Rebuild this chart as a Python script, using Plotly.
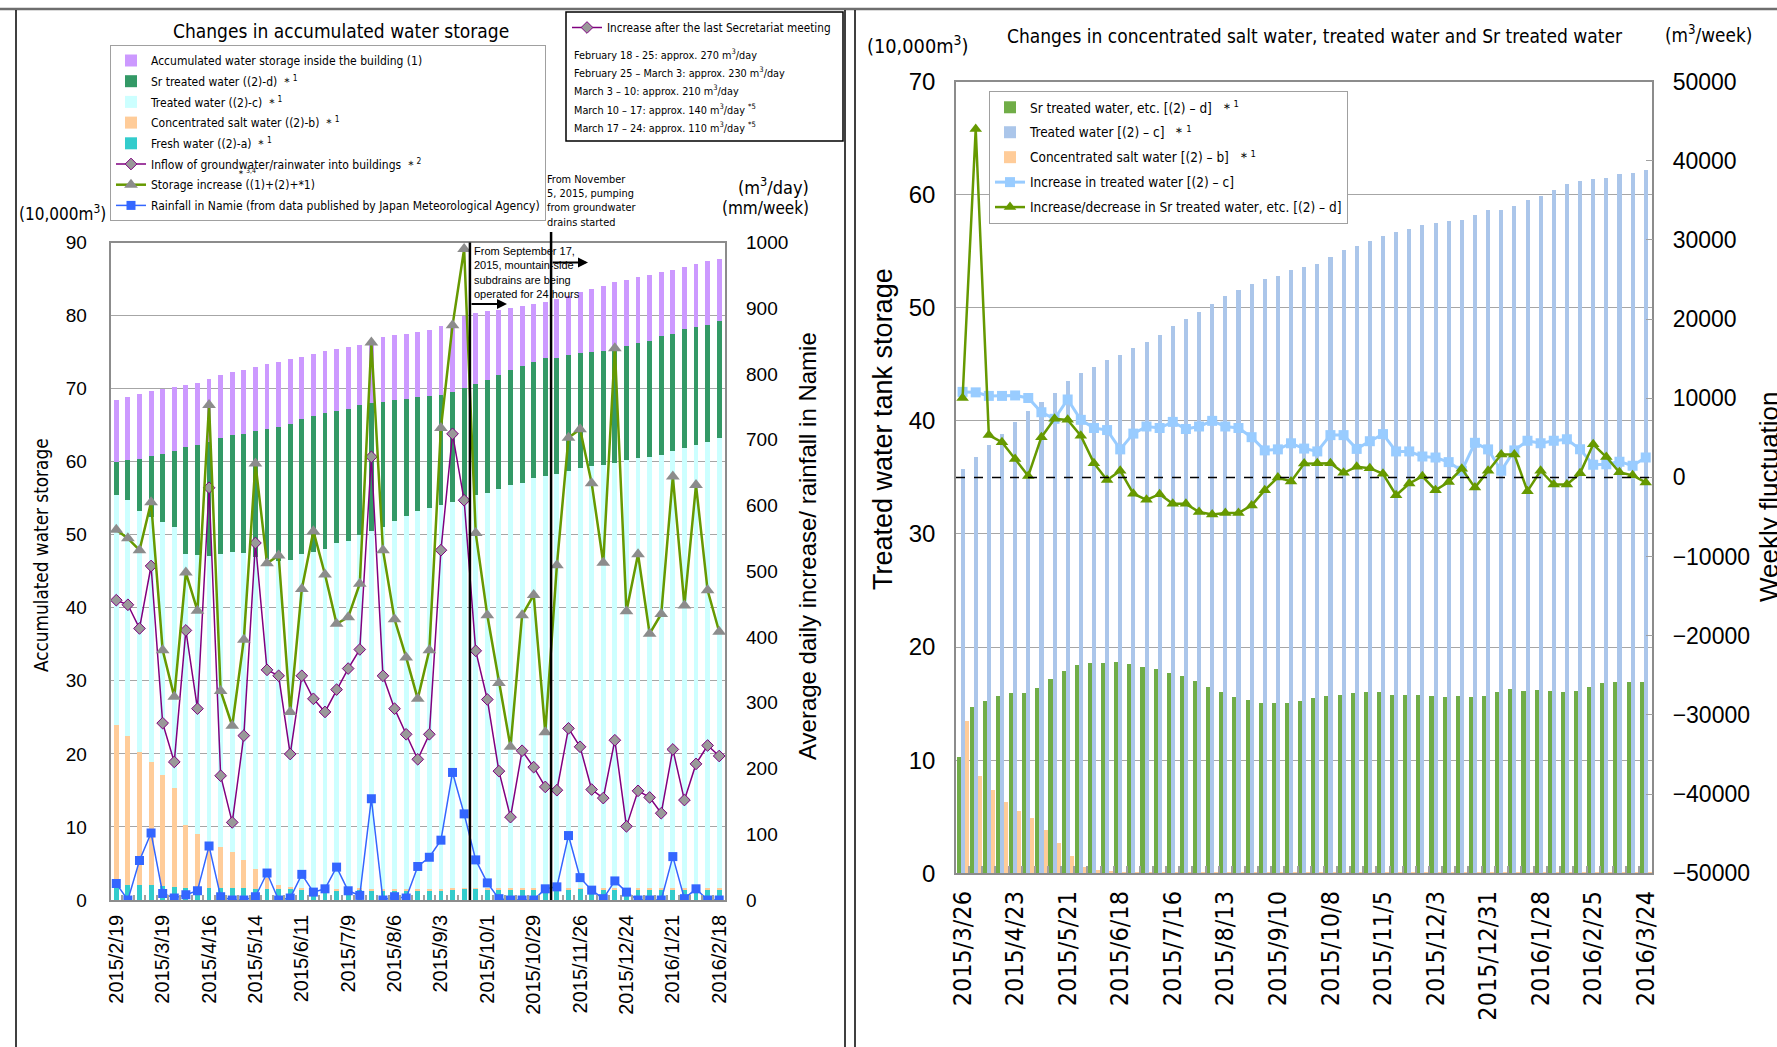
import plotly.graph_objects as go

W, H = 1777, 1047


def px(x):
    return x / W


def py(y):
    return 1 - y / H


NARROW = "DejaVu Sans Condensed, sans-serif"
ARIAL = "Liberation Sans, Arial, sans-serif"
COND = "DejaVu Sans Condensed, sans-serif"

# ---------------- left panel data ----------------
left_dates = [
    "2015/2/19", "2015/2/26", "2015/3/5", "2015/3/12", "2015/3/19", "2015/3/26", "2015/4/2", "2015/4/9",
    "2015/4/16", "2015/4/23", "2015/4/30", "2015/5/7", "2015/5/14", "2015/5/21", "2015/5/28", "2015/6/4",
    "2015/6/11", "2015/6/18", "2015/6/25", "2015/7/2", "2015/7/9", "2015/7/16", "2015/7/23", "2015/7/30",
    "2015/8/6", "2015/8/13", "2015/8/20", "2015/8/27", "2015/9/3", "2015/9/10", "2015/9/17", "2015/9/24",
    "2015/10/1", "2015/10/8", "2015/10/15", "2015/10/22", "2015/10/29", "2015/11/5", "2015/11/12",
    "2015/11/19", "2015/11/26", "2015/12/3", "2015/12/10", "2015/12/17", "2015/12/24", "2015/12/31",
    "2016/1/7", "2016/1/14", "2016/1/21", "2016/1/28", "2016/2/4", "2016/2/11", "2016/2/18",
]
left_tick_labels = [
    "2015/2/19", "2015/3/19", "2015/4/16", "2015/5/14", "2015/6/11", "2015/7/9", "2015/8/6",
    "2015/9/3", "2015/10/1", "2015/10/29", "2015/11/26", "2015/12/24", "2016/1/21", "2016/2/18",
]
fresh_water = [1.9, 2.1, 2.0, 2.0, 1.9, 1.8, 1.7, 1.7, 1.7, 1.6,
               1.7, 1.7, 1.5, 1.5, 1.5, 1.5, 1.5, 1.5, 1.4, 1.4,
               1.5, 1.5, 1.4, 1.4, 1.4, 1.4, 1.4, 1.4, 1.4, 1.5,
               1.6, 1.6, 1.5, 1.5, 1.5, 1.5, 1.5, 1.6, 1.7, 1.5,
               1.6, 1.5, 1.5, 1.5, 1.5, 1.5, 1.5, 1.5, 1.5, 1.5,
               1.5, 1.5, 1.5]
conc_salt_left = [22.1, 20.4, 18.2, 16.9, 15.2, 13.5, 8.6, 7.4, 6.3, 5.6,
                  4.9, 3.8, 2.7, 1.5, 0.6, 0.3, 0.2, 0.15, 0.1, 0.1,
                  0.1, 0.1, 0.1, 0.1, 0.1, 0.1, 0.1, 0.1, 0.1, 0.1,
                  0.1, 0.1, 0.1, 0.1, 0.1, 0.1, 0.1, 0.1, 0.1, 0.1,
                  0.1, 0.1, 0.1, 0.1, 0.1, 0.1, 0.1, 0.1, 0.1, 0.1,
                  0.1, 0.1, 0.1]
treated_left = [31.5, 32.2, 33.0, 33.5, 34.6, 35.8, 37.0, 38.1, 39.1, 40.2,
                41.0, 42.0, 42.7, 43.7, 44.3, 44.7, 45.6, 46.0, 46.5, 47.3,
                47.6, 48.3, 49.0, 49.6, 50.4, 51.0, 51.7, 52.1, 52.6, 52.9,
                53.3, 53.7, 54.1, 54.6, 55.2, 55.5, 56.1, 56.4, 56.5, 57.1,
                57.5, 57.8, 58.0, 58.2, 58.6, 58.9, 59.0, 59.3, 59.8, 60.3,
                60.7, 61.1, 61.6]
sr_left = [4.5, 5.5, 7.2, 8.4, 9.4, 10.3, 14.7, 15.1, 15.6, 15.9,
           16.0, 16.3, 17.3, 17.8, 18.4, 18.7, 18.5, 18.6, 18.7, 18.2,
           18.0, 17.8, 17.5, 17.0, 16.5, 16.1, 15.6, 15.4, 15.0, 15.0,
           15.1, 15.2, 15.5, 15.7, 15.7, 16.0, 16.0, 16.1, 15.9, 15.9,
           15.7, 15.6, 15.6, 15.6, 15.6, 15.8, 15.9, 16.3, 16.1, 16.2,
           16.1, 16.0, 16.1]
building = [8.5, 8.6, 8.8, 8.9, 8.9, 8.8, 8.5, 8.5, 8.6, 8.5,
            8.7, 8.8, 8.7, 8.9, 8.9, 8.8, 8.5, 8.5, 8.4, 8.4,
            8.5, 8.3, 8.3, 8.9, 8.9, 8.9, 9.0, 9.0, 9.5, 9.5,
            9.8, 9.7, 9.4, 8.9, 8.5, 8.2, 7.9, 7.7, 8.0, 8.1,
            8.3, 8.7, 8.8, 9.2, 9.1, 9.0, 9.1, 8.7, 8.8, 8.5,
            8.7, 8.7, 8.5]
inflow = [456, 449, 413, 508, 269, 210, 410, 291, 627, 189,
          118, 250, 543, 350, 341, 222, 341, 306, 286, 320,
          352, 381, 674, 341, 291, 252, 214, 252, 532, 709,
          608, 379, 305, 196, 126, 227, 202, 172, 167, 261,
          233, 168, 155, 243, 112, 166, 156, 132, 229, 152,
          207, 235, 219]
storage_increase = [563, 550, 532, 605, 380, 309, 498, 440, 753, 318,
                    265, 396, 664, 512, 524, 286, 473, 561, 495, 420,
                    430, 481, 848, 532, 427, 369, 306, 380, 718, 874,
                    990, 558, 433, 330, 233, 433, 464, 255, 509, 703,
                    716, 634, 513, 839, 439, 526, 405, 435, 644, 448,
                    631, 471, 408]
rainfall = [25, 0, 60, 102, 10, 3, 8, 14, 82, 5,
            0, 0, 5, 41, 0, 3, 39, 12, 17, 50,
            14, 7, 154, 0, 5, 3, 51, 65, 91, 194,
            131, 61, 26, 2, 0, 0, 0, 17, 20, 98,
            34, 15, 2, 29, 12, 0, 0, 0, 66, 2,
            17, 0, 0]

# ---------------- right panel data ----------------
right_dates = [
    "2015/3/26", "2015/4/2", "2015/4/9", "2015/4/16", "2015/4/23", "2015/4/30", "2015/5/7", "2015/5/14",
    "2015/5/21", "2015/5/28", "2015/6/4", "2015/6/11", "2015/6/18", "2015/6/25", "2015/7/2", "2015/7/9",
    "2015/7/16", "2015/7/23", "2015/7/30", "2015/8/6", "2015/8/13", "2015/8/20", "2015/8/27", "2015/9/3",
    "2015/9/10", "2015/9/17", "2015/9/24", "2015/10/1", "2015/10/8", "2015/10/15", "2015/10/22",
    "2015/10/29", "2015/11/5", "2015/11/12", "2015/11/19", "2015/11/26", "2015/12/3", "2015/12/10",
    "2015/12/17", "2015/12/24", "2015/12/31", "2016/1/7", "2016/1/14", "2016/1/21", "2016/1/28",
    "2016/2/4", "2016/2/11", "2016/2/18", "2016/2/25", "2016/3/3", "2016/3/10", "2016/3/17", "2016/3/24",
]
right_tick_labels = [
    "2015/3/26", "2015/4/23", "2015/5/21", "2015/6/18", "2015/7/16", "2015/8/13", "2015/9/10",
    "2015/10/8", "2015/11/5", "2015/12/3", "2015/12/31", "2016/1/28", "2016/2/25", "2016/3/24",
]
sr_right = [10.3, 14.7, 15.2, 15.7, 15.9, 15.9, 16.4, 17.2, 17.9, 18.4,
            18.6, 18.6, 18.7, 18.5, 18.2, 18.1, 17.7, 17.4, 17.0, 16.5,
            16.0, 15.6, 15.3, 15.1, 15.1, 15.1, 15.2, 15.5, 15.7, 15.8,
            15.9, 16.0, 16.0, 15.8, 15.8, 15.8, 15.7, 15.6, 15.7, 15.6,
            15.7, 16.0, 16.3, 16.1, 16.2, 16.1, 16.0, 16.1, 16.5, 16.8,
            16.9, 16.9, 16.9]
treated_right = [35.7, 36.8, 37.9, 38.8, 39.9, 40.9, 41.7, 42.5, 43.5, 44.2,
                 44.8, 45.4, 45.8, 46.4, 47.0, 47.6, 48.4, 49.0, 49.6, 50.3,
                 51.0, 51.6, 52.1, 52.5, 52.8, 53.3, 53.6, 53.9, 54.5, 55.1,
                 55.5, 55.9, 56.3, 56.7, 57.0, 57.3, 57.5, 57.7, 57.8, 58.2,
                 58.6, 58.6, 59.0, 59.5, 59.9, 60.4, 60.9, 61.2, 61.4, 61.5,
                 61.8, 61.9, 62.2]
conc_salt_right = [13.5, 8.6, 7.4, 6.3, 5.5, 4.9, 3.8, 2.7, 1.5, 0.6,
                   0.3, 0.2, 0.15, 0.1, 0.1, 0.1, 0.1, 0.1, 0.1, 0.1,
                   0.1, 0.1, 0.1, 0.1, 0.1, 0.1, 0.1, 0.1, 0.1, 0.1,
                   0.1, 0.1, 0.1, 0.1, 0.1, 0.1, 0.1, 0.1, 0.1, 0.1,
                   0.1, 0.1, 0.1, 0.1, 0.1, 0.1, 0.1, 0.1, 0.1, 0.1,
                   0.1, 0.1, 0.1]
inc_treated = [10800, 10740, 10290, 10290, 10350, 10030, 8230, 7400, 9840, 7270,
               6240, 5980, 3540, 5530, 6430, 6240, 7010, 6110, 6430, 7140,
               6430, 6240, 5080, 3410, 3540, 4310, 3640, 3280, 5340, 5340,
               3600, 4570, 5470, 3280, 3280, 2640, 2510, 1930, 840, 4370,
               3540, 840, 3410, 4630, 4310, 4630, 4820, 3540, 1610, 1670,
               1990, 1480, 2510]
inc_sr = [10030, 44000, 5340, 4440, 2320, 190, 5080, 7400, 7270, 5270,
          1800, -320, 840, -2060, -2830, -2120, -3340, -3340, -4370, -4690,
          -4500, -4500, -3540, -1610, 0, -510, 1740, 1800, 1800, 580,
          1350, 1160, 450, -2250, -770, 130, -1610, -580, 1090, -1290,
          840, 2890, 2890, -1740, 840, -900, -900, 510, 4180, 2570,
          640, 260, -640]
y4_ticks = [-50000, -40000, -30000, -20000, -10000, 0, 10000, 20000, 30000, 40000, 50000]
y4_tick_text = ["−50000", "−40000", "−30000", "−20000", "−10000", "0",
                "10000", "20000", "30000", "40000", "50000"]

# ---------------- geometry ----------------
L_X = [px(110.5), px(725)]
L_Y = [py(900), py(242.5)]
R_X = [px(956), px(1652.3)]
R_Y = [py(873.3), py(81.5)]

fig = go.Figure()

# left stacked bars (bottom to top)
left_bars = [
    ("Fresh water ((2)-a) ＊<sup>1</sup>", fresh_water, "#33CCCC", 5),
    ("Concentrated salt water ((2)-b) ＊<sup>1</sup>", conc_salt_left, "#FFCC99", 4),
    ("Treated water ((2)-c) ＊<sup>1</sup>", treated_left, "#CCFFFF", 3),
    ("Sr treated water ((2)-d) ＊<sup>1</sup>", sr_left, "#339966", 2),
    ("Accumulated water storage inside the building (1)", building, "#CC99FF", 1),
]
for name, vals, col, rank in left_bars:
    fig.add_trace(go.Bar(x=left_dates, y=vals, name=name, marker=dict(color=col, line=dict(width=0)),
                         xaxis="x", yaxis="y", legend="legend", legendrank=rank,
                         legendgroup="L%d" % rank))

fig.add_trace(go.Scatter(x=left_dates, y=inflow, mode="lines+markers",
                         name="Inflow of groundwater/rainwater into buildings ＊<sup>2</sup>",
                         line=dict(color="#800080", width=1.5),
                         marker=dict(symbol="diamond", size=9, color="#999999",
                                     line=dict(color="#800080", width=1)),
                         xaxis="x", yaxis="y2", legend="legend", legendrank=6, legendgroup="L6"))
fig.add_trace(go.Scatter(x=left_dates, y=storage_increase, mode="lines+markers",
                         name="Storage increase ((1)+(2)+*1)",
                         line=dict(color="#669900", width=2.5),
                         marker=dict(symbol="triangle-up", size=12, color="#8C8C8C"),
                         xaxis="x", yaxis="y2", legend="legend", legendrank=7, legendgroup="L7"))
fig.add_trace(go.Scatter(x=left_dates, y=rainfall, mode="lines+markers",
                         name="Rainfall in Namie (from data published by Japan Meteorological Agency)",
                         line=dict(color="#3366FF", width=1.5),
                         marker=dict(symbol="square", size=9, color="#3366FF"),
                         xaxis="x5", yaxis="y2", legend="legend", legendrank=8, legendgroup="L8"))
# legend-only entry for the secretariat box
fig.add_trace(go.Scatter(x=[None], y=[None], mode="lines+markers",
                         name="Increase after the last Secretariat meeting",
                         line=dict(color="#800080", width=1.5),
                         marker=dict(symbol="diamond", size=9, color="#999999",
                                     line=dict(color="#800080", width=1)),
                         xaxis="x", yaxis="y2", legend="legend3"))

# right grouped bars (each on its own overlaid x axis)
fig.add_trace(go.Bar(x=right_dates, y=sr_right, name="Sr treated water, etc. [(2) – d]  ＊<sup>1</sup>",
                     marker=dict(color="#70AD47", line=dict(width=0)), width=0.31, offset=-0.46,
                     xaxis="x3", yaxis="y3", legend="legend2", legendrank=1, legendgroup="R1"))
fig.add_trace(go.Bar(x=right_dates, y=treated_right, name="Treated water [(2) – c]  ＊<sup>1</sup>",
                     marker=dict(color="#ABC6EA", line=dict(width=0)), width=0.31, offset=-0.15,
                     xaxis="x2", yaxis="y3", legend="legend2", legendrank=2, legendgroup="R2"))
fig.add_trace(go.Bar(x=right_dates, y=conc_salt_right, name="Concentrated salt water [(2) – b]  ＊<sup>1</sup>",
                     marker=dict(color="#FFCC99", line=dict(width=0)), width=0.31, offset=0.16,
                     xaxis="x4", yaxis="y3", legend="legend2", legendrank=3, legendgroup="R3"))
fig.add_trace(go.Scatter(x=right_dates, y=inc_treated, mode="lines+markers",
                         name="Increase in treated water [(2) – c]",
                         line=dict(color="#99CCFF", width=3),
                         marker=dict(symbol="square", size=10, color="#99CCFF"),
                         xaxis="x2", yaxis="y4", legend="legend2", legendrank=4, legendgroup="R4"))
fig.add_trace(go.Scatter(x=right_dates, y=inc_sr, mode="lines+markers",
                         name="Increase/decrease in Sr treated water, etc. [(2) – d]",
                         line=dict(color="#669900", width=2.5),
                         marker=dict(symbol="triangle-up", size=11, color="#669900"),
                         xaxis="x2", yaxis="y4", legend="legend2", legendrank=5, legendgroup="R5"))

GRID = "#A6A6A6"
AX = "#8C8C8C"

cat_common = dict(type="category", range=[-0.5, 52.5], showgrid=False, fixedrange=True)

layout = dict(
    width=W, height=H, margin=dict(l=0, r=0, t=0, b=0, autoexpand=False),
    paper_bgcolor="white", plot_bgcolor="rgba(0,0,0,0)",
    font=dict(family=ARIAL, color="black", size=14),
    barmode="stack", bargap=0.58, showlegend=True,
    xaxis=dict(domain=L_X, anchor="y", categoryarray=left_dates, tickmode="array",
               tickvals=left_tick_labels, ticktext=left_tick_labels, tickangle=-90,
               tickfont=dict(family=ARIAL, size=20), ticks="", ticklabelstandoff=5,
               showline=True, linecolor=AX, linewidth=1.5, mirror=True, **cat_common),
    xaxis5=dict(overlaying="x", anchor="y", categoryarray=left_dates, tickmode="linear", tick0=0, dtick=1,
                tickson="boundaries", ticks="inside", ticklen=5, tickwidth=1.5, tickcolor="#A0A0A0",
                showticklabels=False, showline=False, **cat_common),
    yaxis=dict(domain=L_Y, anchor="x", range=[0, 90], tick0=0, dtick=10, showgrid=True, gridcolor=GRID,
               gridwidth=1, showline=True, linecolor=AX, linewidth=1.5, mirror=True, zeroline=False,
               tickfont=dict(family=ARIAL, size=19), ticklabelstandoff=18, fixedrange=True),
    yaxis2=dict(overlaying="y", anchor="x", side="right", range=[0, 1000], tick0=0, dtick=100,
                showgrid=False, zeroline=False, showline=False,
                tickfont=dict(family=ARIAL, size=19), ticklabelstandoff=20, fixedrange=True),
    xaxis2=dict(domain=R_X, anchor="y3", categoryarray=right_dates, tickmode="array",
                tickvals=right_tick_labels, ticktext=right_tick_labels, tickangle=-90,
                tickfont=dict(family=COND, size=25), ticks="", ticklabelstandoff=6,
                showline=True, linecolor=AX, linewidth=1.5, mirror=True, **cat_common),
    xaxis3=dict(overlaying="x2", anchor="y3", categoryarray=right_dates, tickmode="linear", tick0=0, dtick=1,
                tickson="boundaries", ticks="inside", ticklen=7, tickwidth=1.5, tickcolor="#A0A0A0",
                showticklabels=False, showline=False, **cat_common),
    xaxis4=dict(overlaying="x2", anchor="y3", categoryarray=right_dates, visible=False, **cat_common),
    yaxis3=dict(domain=R_Y, anchor="x2", range=[0, 70], tick0=0, dtick=10, showgrid=True, gridcolor=GRID,
                gridwidth=1, showline=True, linecolor=AX, linewidth=1.5, zeroline=False,
                tickfont=dict(family=ARIAL, size=24), ticklabelstandoff=14, fixedrange=True),
    yaxis4=dict(overlaying="y3", anchor="x2", side="right", range=[-50000, 50000], tickmode="array",
                tickvals=y4_ticks, ticktext=y4_tick_text, showgrid=False, zeroline=False,
                showline=True, linecolor=AX, linewidth=1.5, ticks="inside", ticklen=7,
                tickcolor="#A0A0A0", tickfont=dict(family=ARIAL, size=23), ticklabelstandoff=14,
                fixedrange=True),
    legend=dict(x=px(110), y=py(45), xanchor="left", yanchor="top", bgcolor="white",
                bordercolor="#A0A0A0", borderwidth=1, traceorder="grouped",
                font=dict(family=NARROW, size=12), itemwidth=30, tracegroupgap=1.7),
    legend2=dict(x=px(989), y=py(91), xanchor="left", yanchor="top", bgcolor="white",
                 bordercolor="#A0A0A0", borderwidth=1, traceorder="grouped",
                 font=dict(family=NARROW, size=13.5), itemwidth=30, tracegroupgap=4.4),
    legend3=dict(x=px(567), y=py(13), xanchor="left", yanchor="top", bgcolor="rgba(0,0,0,0)",
                 borderwidth=0, font=dict(family=NARROW, size=11.7), itemwidth=30),
)
fig.update_layout(**layout)

shapes = [
    # top frame line
    dict(type="line", xref="paper", yref="paper", x0=0, x1=1, y0=py(9), y1=py(9),
         line=dict(color="#6E6E6E", width=2.5)),
    # left panel frame
    dict(type="line", xref="paper", yref="paper", x0=px(16), x1=px(16), y0=py(10), y1=0,
         line=dict(color="black", width=1.5)),
    dict(type="line", xref="paper", yref="paper", x0=px(845), x1=px(845), y0=py(10), y1=0,
         line=dict(color="black", width=1.5)),
    # right panel frame
    dict(type="line", xref="paper", yref="paper", x0=px(855), x1=px(855), y0=py(10), y1=0,
         line=dict(color="black", width=1.5)),
    # secretariat box
    dict(type="rect", xref="paper", yref="paper", x0=px(566), x1=px(843), y0=py(141), y1=py(12),
         line=dict(color="black", width=1.5), fillcolor="rgba(0,0,0,0)"),
    # event lines
    dict(type="line", xref="x", yref="paper", x0=30.5, x1=30.5, y0=py(900), y1=py(242.5),
         line=dict(color="black", width=2.5)),
    dict(type="line", xref="x", yref="paper", x0=37.5, x1=37.5, y0=py(900), y1=py(232),
         line=dict(color="black", width=2.5)),
    # zero line on the right panel
    dict(type="line", xref="x2 domain", yref="y4", x0=0, x1=1, y0=0, y1=0,
         line=dict(color="black", width=1.5, dash="dash")),
]
fig.update_layout(shapes=shapes)

ann = []


def text(x, y, s, size, family=NARROW, xanchor="center", yanchor="middle", angle=0, align="left"):
    ann.append(dict(x=px(x), y=py(y), xref="paper", yref="paper", text=s, showarrow=False,
                    xanchor=xanchor, yanchor=yanchor, textangle=angle, align=align,
                    font=dict(family=family, size=size, color="black")))


# left panel texts
text(341, 31, "Changes in accumulated water storage", 19)
text(62, 213, "(10,000m<sup>3</sup>)", 17)
text(41, 555, "Accumulated water storage", 18.8, angle=-90)
text(811, 186, "(m<sup>3</sup>/day)", 18, xanchor="right")
text(811, 208, "(mm/week)", 17, xanchor="right")
text(807, 546, "Average daily increase/ rainfall in Namie", 24, family=ARIAL, angle=-90)
text(246, 173, "＊<sup>3,4</sup>", 10)
text(545, 201, "From November<br>5, 2015, pumping<br>from groundwater<br>drains started", 10.9,
     xanchor="left")
text(472, 272, "From September 17,<br>2015, mountain-side<br>subdrains are being<br>operated for 24 hours", 11,
     family=ARIAL, xanchor="left")
# secretariat box lines
sec_lines = [
    "February 18 - 25: approx. 270 m<sup>3</sup>/day",
    "February 25 – March 3: approx. 230 m<sup>3</sup>/day",
    "March 3 – 10: approx. 210 m<sup>3</sup>/day",
    "March 10 – 17: approx. 140 m<sup>3</sup>/day <sup>*5</sup>",
    "March 17 – 24: approx. 110 m<sup>3</sup>/day <sup>*5</sup>",
]
for i, s in enumerate(sec_lines):
    text(572, 54 + i * 18.4, s, 10.8, xanchor="left")

# right panel texts
text(917, 45, "(10,000m<sup>3</sup>)", 19.8)
text(1315, 36, "Changes in concentrated salt water, treated water and Sr treated water", 19)
text(1708, 34, "(m<sup>3</sup>/week)", 18.8)
text(883, 429, "Treated water tank storage", 27, family=ARIAL, angle=-90)
text(1769, 497, "Weekly fluctuation", 26, family=ARIAL, angle=-90)

# arrows
for (xt, yt) in [(507, 304), (588, 262.5)]:
    ann.append(dict(x=px(xt), y=py(yt), xref="paper", yref="paper", text="", showarrow=True,
                    ax=-37, ay=0, arrowhead=2, arrowsize=1, arrowwidth=2, arrowcolor="black",
                    standoff=0, startstandoff=0))

fig.update_layout(annotations=ann)

fig.write_html("out.html", config={"displayModeBar": False},
               post_script="document.body.style.margin='0';document.body.style.overflow='hidden';")
